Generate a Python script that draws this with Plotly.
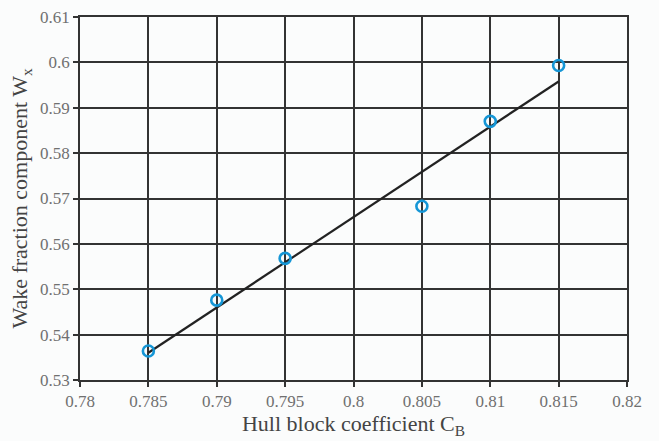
import numpy as np
import plotly.graph_objects as go

cb = [0.785, 0.79, 0.795, 0.805, 0.81, 0.815]
wx = [0.5364, 0.5476, 0.5568, 0.5683, 0.5870, 0.5993]

x_ticks = [0.78, 0.785, 0.79, 0.795, 0.8, 0.805, 0.81, 0.815, 0.82]
x_labels = ["0.78", "0.785", "0.79", "0.795", "0.8", "0.805", "0.81", "0.815", "0.82"]
y_ticks = [0.53, 0.54, 0.55, 0.56, 0.57, 0.58, 0.59, 0.6, 0.61]
y_labels = ["0.53", "0.54", "0.55", "0.56", "0.57", "0.58", "0.59", "0.6", "0.61"]

coef = np.polyfit(cb, wx, 1)
fit_x = [min(cb), max(cb)]
fit_y = [coef[0] * v + coef[1] for v in fit_x]

font_family = "Liberation Serif, DejaVu Serif, serif"

fig = go.Figure()
fig.add_trace(go.Scatter(x=fit_x, y=fit_y, mode="lines",
                         line=dict(color="#222222", width=2.2), showlegend=False))
fig.add_trace(go.Scatter(x=cb, y=wx, mode="markers",
                         marker=dict(symbol="circle-open", size=11, color="#1596d6",
                                     line=dict(width=2.6, color="#1596d6")),
                         showlegend=False))

axis_common = dict(showgrid=True, gridcolor="#333333", gridwidth=1.5,
                   showline=True, linecolor="#333333", linewidth=1.5, mirror=True,
                   ticks="outside", ticklen=5, tickcolor="#333333", tickwidth=1.5,
                   zeroline=False, automargin=False,
                   tickfont=dict(family=font_family, size=17, color="#707070"))

fig.update_xaxes(range=[0.78, 0.82], tickvals=x_ticks, ticktext=x_labels,
                 title=dict(text="Hull block coefficient C<sub>B</sub>",
                            font=dict(family=font_family, size=22, color="#444444"),
                            standoff=4),
                 **axis_common)
fig.update_yaxes(range=[0.53, 0.61], tickvals=y_ticks, ticktext=y_labels,
                 title=dict(text="Wake fraction component W<sub>x</sub>",
                            font=dict(family=font_family, size=22, color="#444444"),
                            standoff=6),
                 **axis_common)

fig.update_layout(width=659, height=441,
                  margin=dict(l=80, r=32, t=17, b=61),
                  paper_bgcolor="#fbfcfc", plot_bgcolor="#fbfcfc")

fig.write_html("out.html")
